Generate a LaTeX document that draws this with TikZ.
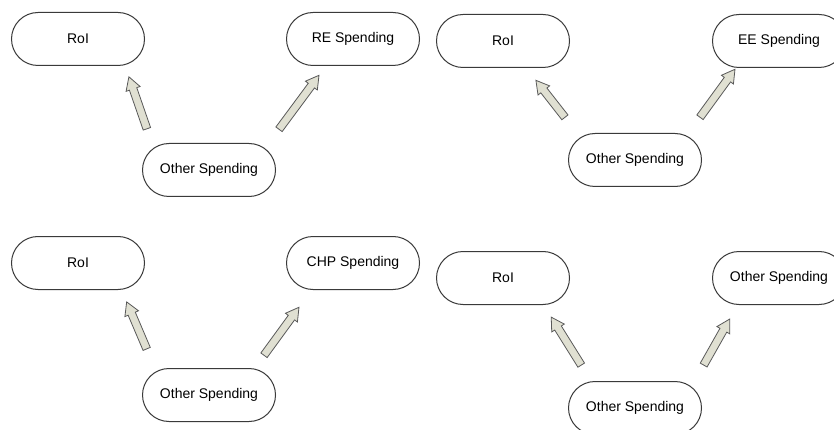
\documentclass[tikz,border=0pt]{standalone}
\usepackage{fontspec}
\setmainfont{Liberation Sans}
\usetikzlibrary{shapes.misc,shapes.arrows,calc}

\definecolor{arrfill}{HTML}{E0E0D2}
\definecolor{linegray}{HTML}{3A3A3A}

\tikzset{
  oval/.style={rounded rectangle, draw=linegray, line width=1pt, fill=white,
    minimum width=133pt, minimum height=53pt, inner sep=0pt,
    font=\fontsize{14}{16}\selectfont},
  fatarr/.style={single arrow, draw=black!65, fill=arrfill, line width=0.8pt,
    inner sep=3.5pt, minimum width=14pt, single arrow head extend=3.5pt,
    single arrow tip angle=60, single arrow head indent=0pt},
}

% block arrow from #1 to #2
\newcommand{\fatarrow}[2]{%
  \path let \p1=($(#2)-(#1)$), \n1={atan2(\y1,\x1)}, \n2={veclen(\x1,\y1)} in
    node[fatarr, minimum height=\n2, rotate=\n1] at ($(#1)!.5!(#2)$) {};}

\begin{document}
\begin{tikzpicture}[x=1pt,y=-1pt]
\useasboundingbox (0,0) rectangle (834,430);
\clip (0,0) rectangle (834,430);
\fill[white] (0,0) rectangle (834,430);

% RE
\node[oval] (roiA) at (78,39) {RoI};
\node[oval] (reA) at (353,39) {RE Spending};
\node[oval] (otherA) at (209,170) {Other Spending};
% EE
\node[oval] (roiB) at (503,41) {RoI};
\node[oval] (eeB) at (779,41) {EE Spending};
\node[oval] (otherB) at (635,160) {Other Spending};
% CHP
\node[oval] (roiC) at (78,263) {RoI};
\node[oval] (chpC) at (353,263) {CHP Spending};
\node[oval] (otherC) at (209,395) {Other Spending};
% Other
\node[oval] (roiD) at (503,278) {RoI};
\node[oval] (otherD) at (779,278) {Other Spending};
\node[oval] (baseD) at (635,408) {Other Spending};

\coordinate (a1s) at (148,132); \coordinate (a1e) at (130,80);
\coordinate (a2s) at (277,132); \coordinate (a2e) at (317,78);
\coordinate (b1s) at (567,120); \coordinate (b1e) at (538,83);
\coordinate (b2s) at (698,120); \coordinate (b2e) at (733,72);
\coordinate (c1s) at (148,352); \coordinate (c1e) at (128,305);
\coordinate (c2s) at (262,358); \coordinate (c2e) at (297,310);
\coordinate (d1s) at (583,368); \coordinate (d1e) at (553,320);
\coordinate (d2s) at (702,368); \coordinate (d2e) at (728,322);

\fatarrow{a1s}{a1e}
\fatarrow{a2s}{a2e}
\fatarrow{b1s}{b1e}
\fatarrow{b2s}{b2e}
\fatarrow{c1s}{c1e}
\fatarrow{c2s}{c2e}
\fatarrow{d1s}{d1e}
\fatarrow{d2s}{d2e}
\end{tikzpicture}
\end{document}
